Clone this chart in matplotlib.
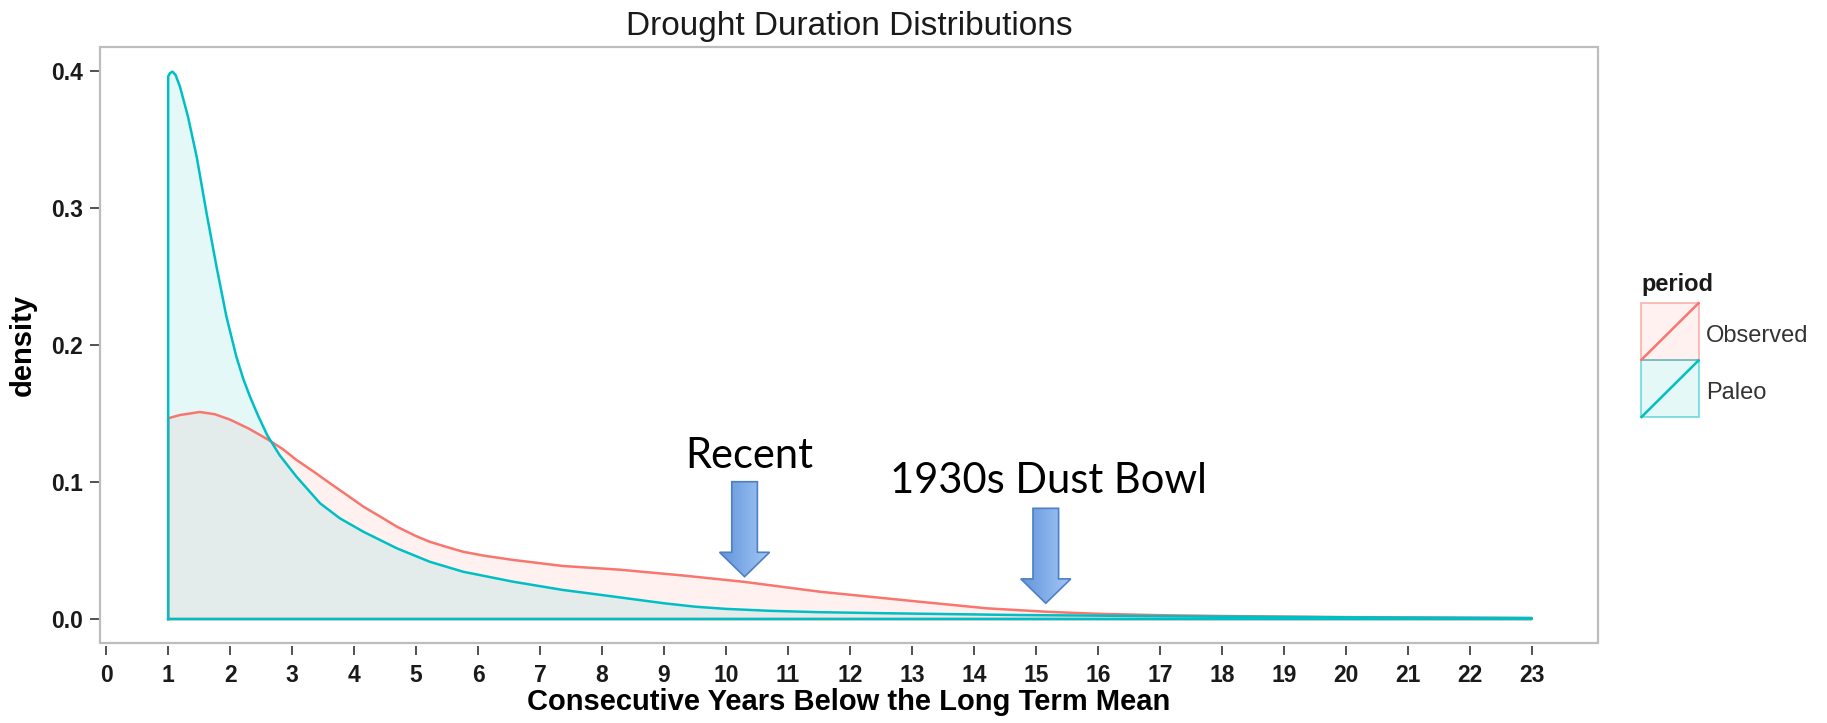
import numpy as np
import matplotlib.pyplot as plt
import matplotlib.colors as mcolors
from matplotlib.patches import FancyArrow, Rectangle
from matplotlib.lines import Line2D

plt.rcParams['font.family'] = ['Liberation Sans', 'DejaVu Sans']

# density curves
paleo_x = [1.0, 1.03, 1.07, 1.12, 1.19, 1.32, 1.46, 1.62, 1.78, 1.94, 2.10, 2.21, 2.32, 2.45,
           2.60, 2.80, 3.07, 3.45, 3.77, 4.15, 4.69, 5.22, 5.76, 6.57, 7.37, 8.0, 8.5, 9.0,
           9.5, 10.0, 10.7, 11.5, 12.6, 14.74, 17.0, 19.0, 21.0, 23.0]
paleo_y = [0.396, 0.3985, 0.3995, 0.397, 0.3886, 0.3666, 0.3374, 0.2961, 0.2572, 0.2207, 0.1915,
           0.1755, 0.1623, 0.1485, 0.1340, 0.1195, 0.1039, 0.0845, 0.0735, 0.0637, 0.0516,
           0.0418, 0.0345, 0.0272, 0.0212, 0.0175, 0.0145, 0.0115, 0.0090, 0.0074, 0.0060,
           0.0050, 0.0042, 0.0029, 0.0021, 0.0015, 0.0010, 0.0007]

obs_x = [1.0, 1.19, 1.51, 1.75, 2.0, 2.3, 2.61, 2.85, 3.07, 3.35, 3.61, 3.9, 4.15, 4.45,
         4.69, 5.0, 5.22, 5.5, 5.76, 6.1, 6.57, 7.37, 8.29, 9.3, 10.28, 11.52, 13.13, 14.21,
         15.17, 16.0, 17.0, 18.0, 20.0, 23.0]
obs_y = [0.1465, 0.1489, 0.1511, 0.1495, 0.1455, 0.1390, 0.1310, 0.1240, 0.1161, 0.1075,
         0.0991, 0.0900, 0.0820, 0.0740, 0.0674, 0.0605, 0.0564, 0.0525, 0.0491, 0.0462,
         0.0431, 0.0387, 0.0360, 0.0318, 0.0272, 0.0199, 0.0126, 0.0078, 0.0053, 0.0038,
         0.0028, 0.0022, 0.0014, 0.0007]

periods = ['Observed', 'Paleo']
colors = ['#F8766D', '#00BFC4']

# annotations: label, arrow x, arrow top, arrow tip, label position
notes = ['Recent', '1930s Dust Bowl']
note_x = [10.30, 15.16]
note_top = [0.1002, 0.0808]
note_tip = [0.0309, 0.0115]
label_x = [10.38, 15.21]
label_y = [0.110, 0.092]

W, H = 1827, 723
fig = plt.figure(figsize=(W / 100, H / 100), dpi=100)
ax = fig.add_axes([100 / W, 80 / H, 1498 / W, 596 / H])

for xs, ys, col in [(obs_x, obs_y, colors[0]), (paleo_x, paleo_y, colors[1])]:
    ax.fill_between(xs, ys, 0, color=col, alpha=0.1, lw=0)
    ox = [xs[0]] + xs + [xs[-1], xs[0]]
    oy = [0] + ys + [0, 0]
    ax.plot(ox, oy, color=col, lw=1.8, solid_joinstyle='round')

# block arrows with a light gradient
cmap = mcolors.LinearSegmentedColormap.from_list('blu', ['#5F92DA', '#A6CAF6'])
grad = np.linspace(0, 1, 128).reshape(1, -1)
for i in range(len(notes)):
    arr = FancyArrow(note_x[i], note_top[i], 0, note_tip[i] - note_top[i], width=0.413,
                     head_width=0.807, head_length=0.0178, length_includes_head=True,
                     fc='none', ec='#4F7FC4', lw=1.2, zorder=6)
    ax.add_patch(arr)
    im = ax.imshow(grad, cmap=cmap, extent=[note_x[i] - 0.45, note_x[i] + 0.45, note_tip[i], note_top[i]],
                   aspect='auto', zorder=5, interpolation='bicubic')
    im.set_clip_path(arr)
    ax.text(label_x[i], label_y[i], notes[i], fontsize=30, family='Lato', ha='center',
            va='baseline', color='black')

ax.set_xlim(-0.1, 24.07)
ax.set_ylim(-0.0175, 0.4175)
ax.set_xticks(range(0, 24))
ax.set_yticks([0, 0.1, 0.2, 0.3, 0.4])
ax.set_yticklabels(['0.0', '0.1', '0.2', '0.3', '0.4'])

for s in ax.spines.values():
    s.set_visible(False)
ax.spines['bottom'].set_position(('outward', 2.4))
ax.add_patch(Rectangle((0, 0), 1, 1, transform=ax.transAxes, fill=False, ec='#BDBDBD',
                       lw=1.6, clip_on=False, zorder=7))

ax.tick_params(axis='both', direction='out', width=1.2, color='#333333',
               labelsize=16.5, labelcolor='#1a1a1a')
ax.tick_params(axis='x', length=6.5, pad=6.5)
ax.tick_params(axis='y', length=7.2, pad=5)
for lab in ax.get_xticklabels() + ax.get_yticklabels():
    lab.set_fontweight('bold')

ax.set_xlabel('Consecutive Years Below the Long Term Mean', fontsize=21, fontweight='bold')
ax.xaxis.set_label_coords(0.5, -67 / 596)
ax.xaxis.label.set_va('baseline')
ax.set_ylabel('density', fontsize=21, fontweight='bold', labelpad=10)
fig.text(849 / W, 1 - 35 / H, 'Drought Duration Distributions', fontsize=24, ha='center',
         va='baseline', color='#1a1a1a')

# legend drawn by hand in ggplot style
def fx(px):
    return px / W

def fy(py):
    return 1 - py / H

fig.text(fx(1641), fy(291), 'period', fontsize=17, fontweight='bold', va='baseline',
         color='#1a1a1a')
tops = [302.7, 360.0]
for i in range(len(periods)):
    top = tops[i]
    col = colors[i]
    fig.add_artist(Rectangle((fx(1640.7), fy(top + 57.5)), 58.3 / W, 57.5 / H,
                             transform=fig.transFigure, fc=mcolors.to_rgba(col, 0.1),
                             ec=mcolors.to_rgba(col, 0.55), lw=1.2))
    fig.add_artist(Line2D([fx(1641.5), fx(1698.5)], [fy(top + 57), fy(top + 0.5)],
                          transform=fig.transFigure, color=col, lw=1.8))
    fig.text(fx(1706), fy(top + 39), periods[i], fontsize=17, va='baseline', color='#333333')

fig.savefig('out.png', dpi=100)
